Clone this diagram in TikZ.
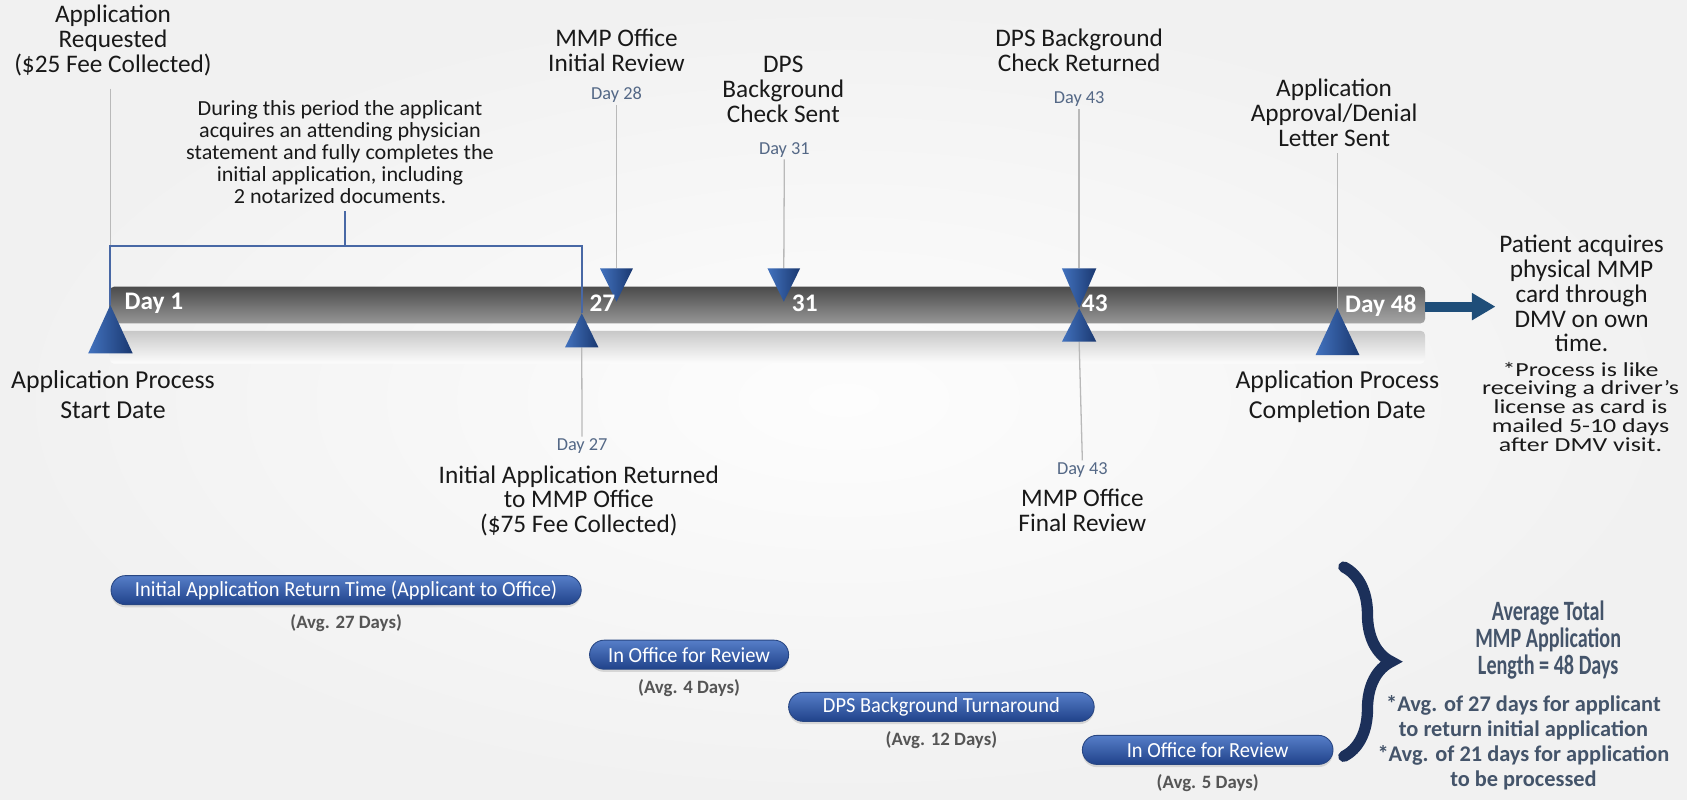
\documentclass[tikz,border=0pt]{standalone}
\usepackage{fontspec}
\setmainfont{Carlito}
\newfontfamily\condfont[FakeStretch=0.72]{Carlito}
\newfontfamily\notefont[FakeStretch=1.3]{Carlito}
\newfontfamily\descfont[FakeStretch=1.03]{Carlito}
\newfontfamily\pillfont[FakeStretch=0.95]{Carlito}
\usetikzlibrary{arrows.meta,decorations.pathreplacing,shadows}
\definecolor{bgin}{RGB}{253,253,253}
\definecolor{bgout}{RGB}{241,241,241}
\definecolor{txtc}{RGB}{25,25,25}
\definecolor{dayc}{RGB}{84,104,134}
\definecolor{slate}{RGB}{68,84,106}
\definecolor{leadc}{RGB}{185,185,185}
\definecolor{brkc}{RGB}{72,104,165}
\definecolor{triL}{RGB}{66,114,190}
\definecolor{triD}{RGB}{26,56,112}
\definecolor{barT}{RGB}{75,75,75}
\definecolor{barB}{RGB}{150,150,150}
\definecolor{arrc}{RGB}{31,78,121}
\definecolor{pillT}{RGB}{86,126,200}
\definecolor{pillB}{RGB}{32,66,138}
\definecolor{pillE}{RGB}{40,70,130}
\definecolor{avgc}{RGB}{85,85,85}
\definecolor{navyc}{RGB}{28,48,90}
\definecolor{reflc}{RGB}{200,200,200}
\tikzset{
  lbl/.style={align=center, inner sep=0pt, text=txtc, anchor=base, font=\fontsize{23.5}{23}\selectfont},
  big/.style={align=center, inner sep=0pt, text=txtc, anchor=base, font=\fontsize{24}{28}\selectfont},
  desc/.style={align=center, inner sep=0pt, text=txtc, anchor=base, font=\descfont\fontsize{20}{20.5}\selectfont},
  note/.style={align=center, inner sep=0pt, text=txtc, anchor=base, font=\notefont\fontsize{18.5}{17.5}\selectfont},
  ttl/.style={align=center, inner sep=0pt, text=slate, anchor=base, font=\condfont\bfseries\fontsize{26}{25}\selectfont},
  ttln/.style={align=center, inner sep=0pt, text=slate, anchor=base, font=\bfseries\fontsize{20.8}{23.2}\selectfont},
  dayl/.style={inner sep=2pt, text=dayc, font=\fontsize{17}{17}\selectfont},
  onbar/.style={inner sep=0pt, anchor=base west, text=white, font=\bfseries\fontsize{23.5}{23.5}\selectfont},
  lead/.style={draw=leadc, line width=1.2pt},
  brk/.style={draw=brkc, line width=1.6pt},
  tri/.style={left color=triL, right color=triD},
  pillnode/.style={rounded corners=13.5pt, minimum height=27pt, inner sep=0pt, top color=pillT, bottom color=pillB, draw=pillE, line width=0.8pt, text=white, font=\pillfont\fontsize{20}{20}\selectfont, drop shadow={shadow xshift=0pt, shadow yshift=-2.5pt, opacity=0.25}},
  avg/.style={anchor=north, inner sep=0pt, yshift=-9pt, text=avgc, font=\bfseries\fontsize{17.5}{17.5}\selectfont},
}
\begin{document}
\begin{tikzpicture}[x=1pt,y=-1pt]
\useasboundingbox (0,0) rectangle (1568,743);
\shade[inner color=bgin, outer color=bgout] (0,0) rectangle (1568,743);

% named points
\coordinate (t1) at (102.5,283.5);
\coordinate (t27) at (540.7,291.2);
\coordinate (t28) at (573,280.4);
\coordinate (t31) at (728.5,280.4);
\coordinate (t43) at (1003,286.6);
\coordinate (t48) at (1243,286.6);
\coordinate (t28top) at (573,249.4);
\coordinate (t31top) at (728.5,249.4);
\coordinate (t43top) at (1003,249.4);
\coordinate (t27base) at (540.7,322.8);
\coordinate (t43base) at (1003,317.6);
\coordinate (bkL) at (102.5,228.7);
\coordinate (bkR) at (540.7,228.7);
\coordinate (bkM) at (320.8,228.7);
\coordinate (bkT) at (320.8,196);
\coordinate (barR) at (1324.5,285);
\coordinate (arrTip) at (1390,285);
\coordinate (brT) at (1249,527);
\coordinate (brB) at (1249,703);

% reflection and bar
\shade[top color=reflc, bottom color=bgin, rounded corners=4pt] (102,307.5) rectangle (1324.5,338);
\shade[top color=barT, bottom color=barB, rounded corners=4pt] (102,266.5) rectangle (1324.5,300.5);
\fill[white, opacity=0.15] (1243,266.5) [rounded corners=4pt] -- (1324.5,266.5) -- (1324.5,300.5) [sharp corners] -- (1243,300.5) -- cycle;

% labels above
\node[lbl] (A) at (105,67) {Application\\Requested\\(\$25 Fee Collected)};
\node[lbl] (B) at (573,66) {MMP Office\\Initial Review};
\node[lbl] (C) at (728,113.5) {DPS\\Background\\Check Sent};
\node[lbl] (D) at (1003,66) {DPS Background\\Check Returned};
\node[lbl] (E) at (1240,136) {Application\\Approval/Denial\\Letter Sent};
\node[dayl] (d28) at (573,88) {Day 28};
\node[dayl] (d31) at (729,139) {Day 31};
\node[dayl] (d43t) at (1003,92) {Day 43};
\node[desc] (desc) at (316,189.5) {During this period the applicant\\acquires an attending physician\\statement and fully completes the\\initial application, including\\2 notarized documents.};

% labels below
\node[big] (F) at (105,389) {Application Process\\Start Date};
\node[big] (G) at (1243,389) {Application Process\\Completion Date};
\node[dayl] (d27) at (541,415) {Day 27};
\node[lbl] (H) at (538,495) {Initial Application Returned\\to MMP Office\\(\$75 Fee Collected)};
\node[dayl] (d43b) at (1006,437) {Day 43};
\node[lbl] (I) at (1006,494) {MMP Office\\Final Review};
\node[lbl] (J) at (1470,327) {Patient acquires\\physical MMP\\card through\\DMV on own\\time.};
\node[note] (K) at (1469,419.5) {*Process is like\\receiving a driver’s\\license as card is\\mailed 5-10 days\\after DMV visit.};

% leaders
\draw[lead, shorten <=12pt] (A.south -| bkL) -- (bkL);
\draw[lead] (d28.south) -- (t28top);
\draw[lead] (d31.south) -- (t31top);
\draw[lead] (d43t.south) -- (t43top);
\draw[lead, shorten <=6pt] (E.south -| t48) -- (t48);
\draw[lead] (t27base) -- (d27.north);
\draw[lead] (t43base) -- (d43b.north);

% bracket
\draw[brk] (t1) -- (bkL) -- (bkR) -- (t27);
\draw[brk] (bkM) -- (bkT);

% triangles
\shade[tri] (82,328.4) -- (t1) -- (123.3,328.4) -- cycle;
\shade[tri] (525.2,322.8) -- (t27) -- (556.2,322.8) -- cycle;
\shade[tri] (557.7,249.4) -- (588.3,249.4) -- (t28) -- cycle;
\shade[tri] (713.3,249.4) -- (743.7,249.4) -- (t31) -- cycle;
\shade[tri] (987,249.4) -- (1019,249.4) -- (t43) -- cycle;
\shade[tri] (987,317.6) -- (1019,317.6) -- (t43) -- cycle;
\shade[tri] (1222.8,330) -- (t48) -- (1263.5,330) -- cycle;

% numbers on bar
\node[onbar] (n1) at (115.6,288) {Day 1};
\node[onbar] (n27) at (547.8,289.7) {27};
\node[onbar] (n31) at (735.9,289.7) {31};
\node[onbar] (n43) at (1005.4,289.7) {43};
\node[onbar] (n48) at (1250,290) {Day 48};

% arrow
\draw[arrc, line width=9.5pt, -{Triangle[length=22pt,width=24pt]}] (barR) -- (arrTip);

% pills
\node[pillnode, minimum width=437pt] (p1) at (321.7,548.5) {Initial Application Return Time (Applicant to Office)};
\node[pillnode, minimum width=185pt] (p2) at (640.5,608.5) {In Office for Review};
\node[pillnode, minimum width=284pt] (p3) at (875,657) {DPS Background Turnaround};
\node[pillnode, minimum width=233pt] (p4) at (1122.5,697) {In Office for Review};
\node[avg] (a1) at (p1.south) {(Avg. 27 Days)};
\node[avg] (a2) at (p2.south) {(Avg. 4 Days)};
\node[avg] (a3) at (p3.south) {(Avg. 12 Days)};
\node[avg] (a4) at (p4.south) {(Avg. 5 Days)};

% brace and totals
\draw[navyc, line width=10.5pt, line cap=round, decorate, decoration={brace, amplitude=44pt}] (brT) -- (brB);
\node[ttl] (L) at (1439,627) {Average Total\\MMP Application\\Length = 48 Days};
\node[ttln] (M) at (1416,731) {*Avg. of 27 days for applicant\\to return initial application\\*Avg. of 21 days for application\\to be processed};
\end{tikzpicture}
\end{document}
